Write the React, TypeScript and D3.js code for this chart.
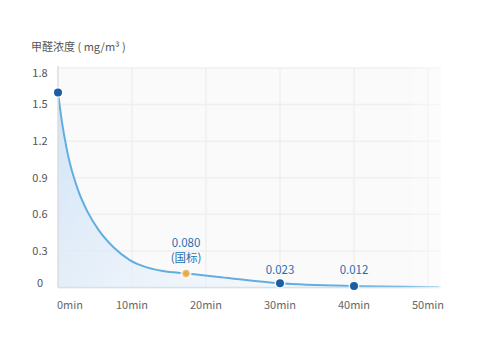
import React from "react";
import * as d3 from "d3";

// curve samples (minutes, mg/m³)
const curveMinutes = [0, 0.5, 1.3, 2.7, 4, 5.5, 7.5, 9.7, 12, 14.2, 17.3, 22, 30, 40, 51.5];
const curveValues = [1.6, 1.37, 1.1, 0.8, 0.62, 0.47, 0.33, 0.225, 0.165, 0.135, 0.115, 0.085, 0.035, 0.013, 0.005];

// marked points
const markMinutes = [0, 17.3, 30, 40];
const markValues = [1.6, 0.115, 0.035, 0.013];
const markLabels = ["", "0.080", "0.023", "0.012"];
const markSubLabels = ["", "(国标)", "", ""];

const yTicks = [0, 0.3, 0.6, 0.9, 1.2, 1.5, 1.8];
const xTicks = [0, 10, 20, 30, 40, 50];

const W = 477;
const H = 351;
const FONT = "'Noto Sans CJK SC', 'Noto Sans', sans-serif";

export default function App() {
  const x = d3.scaleLinear().domain([0, 50]).range([58, 428]);
  const y = d3.scaleLinear().domain([0, 1.8]).range([287.5, 68]);
  const plotRight = 441;

  const pts: [number, number][] = curveMinutes.map((m, i) => [m, curveValues[i]]);
  const line = d3
    .line<[number, number]>()
    .x((d) => x(d[0]))
    .y((d) => y(d[1]))
    .curve(d3.curveMonotoneX);
  const area = d3
    .area<[number, number]>()
    .x((d) => x(d[0]))
    .y0(y(0))
    .y1((d) => y(d[1]))
    .curve(d3.curveMonotoneX);

  return (
    <svg
      width={W}
      height={H}
      style={{ position: "absolute", left: 0, top: 0, background: "#fff" }}
      fontFamily={FONT}
    >
      <defs>
        <linearGradient id="areaFill" x1="0" y1="0" x2="1" y2="0.35">
          <stop offset="0" stopColor="#cfe3f6" stopOpacity={0.95} />
          <stop offset="0.45" stopColor="#e3eefa" stopOpacity={0.7} />
          <stop offset="1" stopColor="#eef4fb" stopOpacity={0.2} />
        </linearGradient>
        <linearGradient id="fadeRight" x1="0" y1="0" x2="1" y2="0">
          <stop offset="0" stopColor="#fff" stopOpacity={0} />
          <stop offset="1" stopColor="#fff" stopOpacity={1} />
        </linearGradient>
        <radialGradient id="orangeDot">
          <stop offset="0" stopColor="#e4a445" />
          <stop offset="0.6" stopColor="#e9ae55" />
          <stop offset="1" stopColor="#f6d8a8" />
        </radialGradient>
      </defs>

      {/* title */}
      <text x={31} y={51} fontSize={11} fill="#555">
        甲醛浓度 ( mg/m³ )
      </text>

      {/* plot background + grid */}
      <rect x={x(0)} y={y(1.8)} width={plotRight - x(0)} height={y(0) - y(1.8)} fill="#fafafa" />
      {yTicks.map((t) => (
        <line key={"gy" + t} x1={x(0)} x2={plotRight} y1={y(t)} y2={y(t)} stroke="#efefef" strokeWidth={1.5} />
      ))}
      {xTicks.slice(1).map((t) => (
        <line key={"gx" + t} x1={x(t)} x2={x(t)} y1={y(1.8)} y2={y(0)} stroke="#efefef" strokeWidth={1.5} />
      ))}

      {/* area + curve */}
      <path d={area(pts) || ""} fill="url(#areaFill)" />
      <path d={line(pts) || ""} fill="none" stroke="#62aee0" strokeWidth={2} />

      {/* axes */}
      <line x1={x(0)} x2={x(0)} y1={y(1.8) - 2} y2={y(0)} stroke="#dcdcdc" strokeWidth={1.5} />
      <line x1={x(0)} x2={plotRight} y1={y(0)} y2={y(0)} stroke="#d4e2ef" strokeWidth={1.5} />

      {/* fade out on the right */}
      <rect x={405} y={60} width={W - 405} height={240} fill="url(#fadeRight)" />

      {/* y tick labels */}
      {yTicks.map((t) => (
        <text
          key={"ty" + t}
          x={40}
          y={y(t) + (t === 0 ? -4 : t === 1.8 ? 5 : 0)}
          dy="0.35em"
          textAnchor="middle"
          fontSize={11}
          fill="#555"
        >
          {t === 0 ? "0" : t.toFixed(1)}
        </text>
      ))}

      {/* x tick labels */}
      {xTicks.map((t) => (
        <text
          key={"tx" + t}
          x={t === 0 ? x(t) - 1 : x(t)}
          y={309}
          textAnchor={t === 0 ? "start" : "middle"}
          fontSize={11}
          fill="#666"
        >
          {t + "min"}
        </text>
      ))}

      {/* marked points */}
      {markMinutes.map((m, i) => {
        const cx = x(m);
        const cy = y(markValues[i]);
        const orange = i === 1;
        return (
          <g key={"m" + i}>
            <circle cx={cx} cy={cy} r={5.5} fill="#fff" opacity={0.8} />
            <circle cx={cx} cy={cy} r={4} fill={orange ? "url(#orangeDot)" : "#1a5fa6"} />
            {markLabels[i] && (
              <text
                x={cx}
                y={orange ? 247 : 274}
                textAnchor="middle"
                fontSize={11.5}
                fill="#1f6fb2"
              >
                {markLabels[i]}
              </text>
            )}
            {markSubLabels[i] && (
              <text x={cx} y={262} textAnchor="middle" fontSize={11.5} fill="#1f6fb2">
                {markSubLabels[i]}
              </text>
            )}
          </g>
        );
      })}
    </svg>
  );
}
